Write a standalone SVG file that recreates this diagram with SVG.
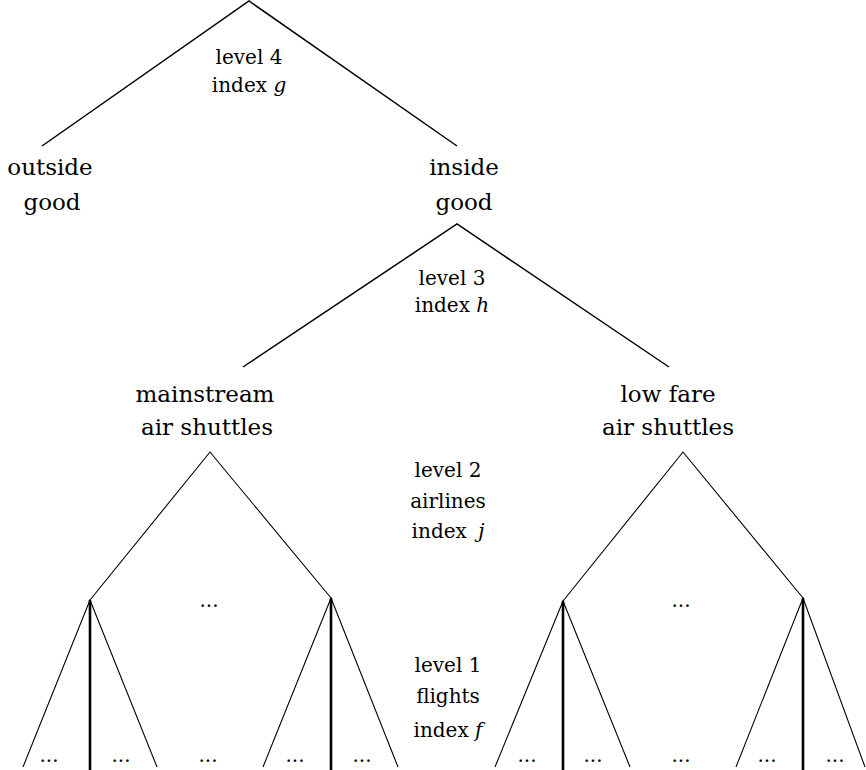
<svg xmlns="http://www.w3.org/2000/svg" width="866" height="770" viewBox="0 0 866 770">
<style>
text{font-family:"DejaVu Serif",serif;fill:#000;text-anchor:middle}
.big{font-size:23px}
.lbl{font-size:20px}
.dots{font-size:20px}
.it{font-style:italic}
.e1{stroke:#000;stroke-width:1.5;fill:none}
.e2{stroke:#000;stroke-width:1.1;fill:none}
.e3{stroke:#000;stroke-width:2.6;fill:none}
</style>
<rect width="866" height="770" fill="#fff"/>
<g id="connectors">
<path class="e1" d="M42 146 L249 1 L457 146"/>
<path class="e1" d="M243 367 L457 224 L669 367"/>
<path class="e2" d="M90 600 L210 452 L331 598"/>
<path class="e2" d="M563 601 L683 452 L803 598"/>
<path class="e2" d="M23 767 L90 600 L157 767"/>
<path class="e2" d="M263 767 L331 598 L398 767"/>
<path class="e2" d="M495 767 L563 601 L630 767"/>
<path class="e2" d="M736 767 L803 598 L865 767"/>
<path class="e3" d="M90 600 V770 M331 598 V770 M563 601 V770 M803 598 V770"/>
</g>
<g id="level4">
<text class="lbl" x="249" y="64">level 4</text>
<text class="lbl" x="249" y="92">index <tspan class="it">g</tspan></text>
</g>
<g id="outside-good">
<text class="big" x="50" y="175">outside</text>
<text class="big" x="52" y="210">good</text>
</g>
<g id="inside-good">
<text class="big" x="464" y="175">inside</text>
<text class="big" x="464" y="210">good</text>
</g>
<g id="level3">
<text class="lbl" x="452" y="285">level 3</text>
<text class="lbl" x="452" y="312">index <tspan class="it">h</tspan></text>
</g>
<g id="mainstream">
<text class="big" x="205" y="402">mainstream</text>
<text class="big" x="207" y="435">air shuttles</text>
</g>
<g id="lowfare">
<text class="big" x="668" y="402">low fare</text>
<text class="big" x="668" y="435">air shuttles</text>
</g>
<g id="level2">
<text class="lbl" x="448" y="477">level 2</text>
<text class="lbl" x="448" y="508">airlines</text>
<text class="lbl" x="448" y="538">index <tspan class="it" dx="5">j</tspan></text>
</g>
<g id="level1">
<text class="lbl" x="448" y="672">level 1</text>
<text class="lbl" x="448" y="703">flights</text>
<text class="lbl" x="448" y="737">index <tspan class="it">f</tspan></text>
</g>
<g id="ellipses">
<text class="dots" x="209" y="607">...</text>
<text class="dots" x="681" y="607">...</text>
<text class="dots" x="49" y="762">...</text>
<text class="dots" x="121" y="762">...</text>
<text class="dots" x="208" y="762">...</text>
<text class="dots" x="295" y="762">...</text>
<text class="dots" x="362" y="762">...</text>
<text class="dots" x="527" y="762">...</text>
<text class="dots" x="593" y="762">...</text>
<text class="dots" x="681" y="762">...</text>
<text class="dots" x="767" y="762">...</text>
<text class="dots" x="835" y="762">...</text>
</g>
</svg>
